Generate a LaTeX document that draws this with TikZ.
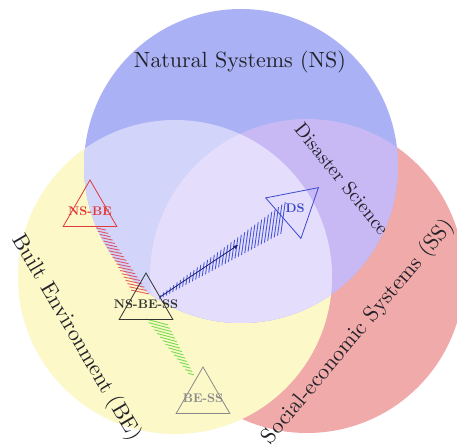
\documentclass[tikz,border=0pt]{standalone}
\usetikzlibrary{shapes.geometric,calc,arrows.meta}
\definecolor{cNS}{HTML}{AAB2F5}
\definecolor{cBE}{HTML}{FCF8C8}
\definecolor{cSS}{HTML}{F0AAAA}
\definecolor{cNSBE}{HTML}{D2D4FA}
\definecolor{cNSSS}{HTML}{C8B9F5}
\definecolor{cAll}{HTML}{E4DEFC}
\definecolor{txt}{HTML}{222228}
\definecolor{trRed}{HTML}{E03A3A}
\definecolor{trBlk}{HTML}{333333}
\definecolor{trGry}{HTML}{8A8A8A}
\definecolor{trBlu}{HTML}{3A4AD0}
\definecolor{hatchRed}{HTML}{E03848}
\definecolor{hatchGrn}{HTML}{78DC50}
\definecolor{hatchBlu}{HTML}{4656D8}
\definecolor{arrBlu}{HTML}{1A1A6E}
\font\lblfont=cmr10 at 22pt
\font\dsfont=cmr10 at 19.5pt
\font\trifont=cmbx10 at 12.5pt
\begin{document}
\begin{tikzpicture}[x=1pt,y=1pt,
  bigtext/.style={font=\lblfont, text=txt, inner sep=0pt},
  tri/.style={regular polygon, regular polygon sides=3, minimum size=62pt, inner sep=0pt, line width=0.8pt},
  trilab/.style={font=\trifont, inner sep=0pt},
  hatch/.style={line width=0.9pt}]
\useasboundingbox (0,0) rectangle (457,444);
\fill[white] (0,0) rectangle (457,444);
% circle centres
\coordinate (cns) at (241,278);
\coordinate (cbe) at (175,167);
\coordinate (css) at (307,168);
\def\R{157}
% regions
\fill[cSS] (css) circle (\R);
\fill[cBE] (cbe) circle (\R);
\fill[cNS] (cns) circle (\R);
\begin{scope}
  \clip (cns) circle (\R);
  \fill[cNSSS] (css) circle (\R);
  \fill[cNSBE] (cbe) circle (\R);
  \clip (cbe) circle (\R);
  \fill[cAll] (css) circle (\R);
\end{scope}
% circle labels
\node[bigtext] (lns) at (240,382) {Natural Systems (NS)};
\node[bigtext, font=\dsfont, rotate=-51] (lds) at (342,265) {Disaster Science};
\node[bigtext, rotate=-59.5] (lbe) at (76,106) {Built Environment (BE)};
\node[bigtext, rotate=50] (lss) at (358,112) {Social-economic Systems (SS)};
% hatched bands
\coordinate (r1) at (101,215);
\coordinate (r2) at (140,152);
\coordinate (g1) at (157,122);
\coordinate (g2) at (191,70);
\coordinate (b1) at (160,147);
\coordinate (b2) at (283,226);
\foreach \i in {0,...,19} {
  \pgfmathsetmacro\t{\i/19}
  \pgfmathsetmacro\h{(10+8*\t)/2}
  \path ($(r1)!\t!(r2)$) coordinate (m);
  \draw[hatch, hatchRed, opacity=0.8] ([shift={(168:\h)}]m) -- ([shift={(-12:\h)}]m);
}
\foreach \i in {0,...,15} {
  \pgfmathsetmacro\t{\i/15}
  \pgfmathsetmacro\h{(23-17*\t)/2}
  \path ($(g1)!\t!(g2)$) coordinate (m);
  \draw[hatch, hatchGrn] ([shift={(165:\h)}]m) -- ([shift={(-15:\h)}]m);
}
\foreach \i in {0,...,37} {
  \pgfmathsetmacro\t{\i/37}
  \pgfmathsetmacro\h{(4+28*\t)/2}
  \path ($(b1)!\t!(b2)$) coordinate (m);
  \draw[hatch, hatchBlu] ([shift={(82:\h)}]m) -- ([shift={(262:\h)}]m);
}
% arrow
\coordinate (a1) at (160,147);
\coordinate (a2) at (238,199);
\draw[arrBlu, line width=0.7pt, -{Stealth[length=5pt,width=4pt]}] (a1) -- (a2);
% triangles
\node[tri, draw=trRed, label={[trilab, text=trRed]center:NS-BE}] (nsbe) at (90,233) {};
\node[tri, draw=trBlk, label={[trilab, text=trBlk]center:NS-BE-SS}] (nsbess) at (146,140) {};
\node[tri, draw=trGry, label={[trilab, text=trGry]center:BE-SS}] (bess) at (203,46) {};
\node[tri, draw=trBlu, shape border rotate=-49, label={[trilab, text=trBlu]center:DS}] (ds) at (295,236) {};
\end{tikzpicture}
\end{document}
